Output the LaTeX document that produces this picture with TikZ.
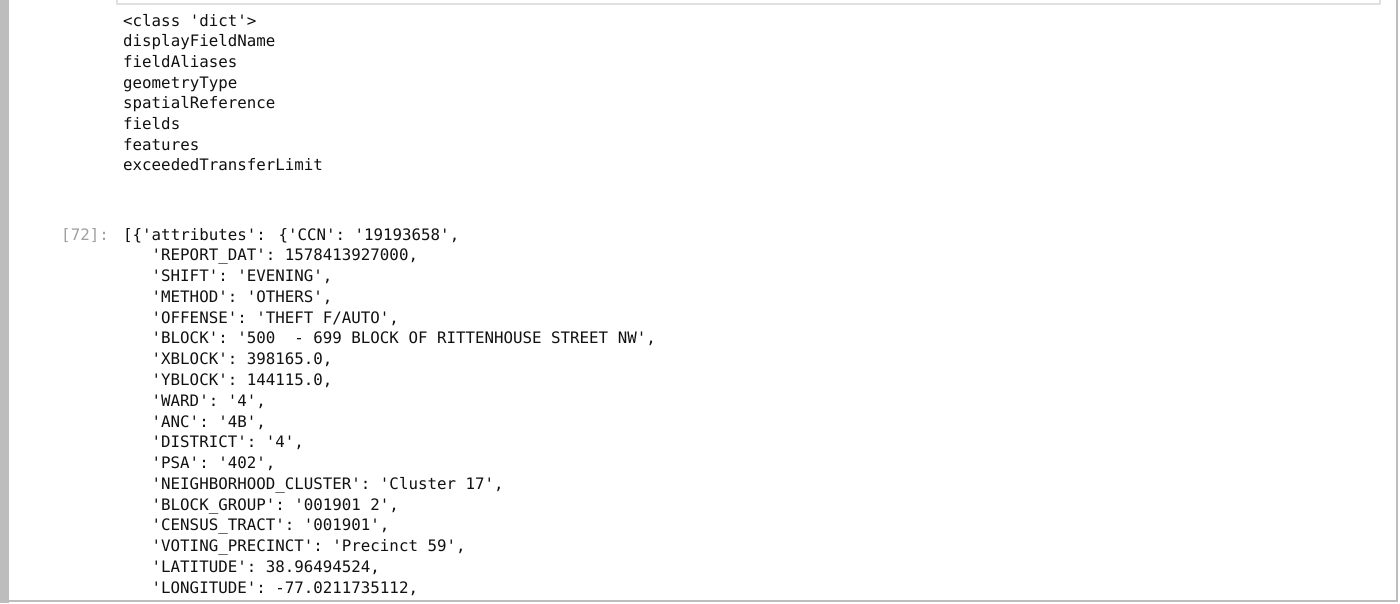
\documentclass[tikz,border=0pt]{standalone}
\usepackage{fontspec}
\newfontfamily\mono{DejaVu Sans Mono}
\definecolor{barg}{HTML}{BDBDBD}
\definecolor{cellb}{HTML}{E0E0E0}
\definecolor{promptg}{HTML}{A0A0A0}
\definecolor{txt}{HTML}{111111}
\begin{document}
\begin{tikzpicture}[x=1pt,y=-1pt,
  line/.style={anchor=base west,inner sep=0pt,font=\mono\fontsize{15.8}{18}\selectfont,text=txt},
  prm/.style={anchor=base east,inner sep=0pt,font=\mono\fontsize{15.8}{18}\selectfont,text=promptg}]
\useasboundingbox (0,0) rectangle (1400,603);
\fill[white] (0,0) rectangle (1400,603);
\fill[barg] (0,0) rectangle (9,603);
\draw[barg,line width=1.5] (1397,0) -- (1397,601) -- (9,601);
\draw[cellb,line width=1.2] (117,-2) -- (117,4) -- (1380,4) -- (1380,-2);
\node[line] (a0) at (123,26.0) {<class 'dict'>};
\node[line] (a1) at (123,46.7) {displayFieldName};
\node[line] (a2) at (123,67.4) {fieldAliases};
\node[line] (a3) at (123,88.1) {geometryType};
\node[line] (a4) at (123,108.8) {spatialReference};
\node[line] (a5) at (123,129.5) {fields};
\node[line] (a6) at (123,150.2) {features};
\node[line] (a7) at (123,170.9) {exceededTransferLimit};
\node[prm] (p) at (109,240) {[72]:};
\node[line] (b0) at (123,240.0) {[\{'attributes': \{'CCN': '19193658',};
\foreach \i/\t in {1/{'REPORT\_DAT': 1578413927000,},
  2/{'SHIFT': 'EVENING',},
  3/{'METHOD': 'OTHERS',},
  4/{'OFFENSE': 'THEFT F/AUTO',},
  5/{'BLOCK': '500\hphantom{0}\hphantom{0}- 699 BLOCK OF RITTENHOUSE STREET NW',},
  6/{'XBLOCK': 398165.0,},
  7/{'YBLOCK': 144115.0,},
  8/{'WARD': '4',},
  9/{'ANC': '4B',},
  10/{'DISTRICT': '4',},
  11/{'PSA': '402',},
  12/{'NEIGHBORHOOD\_CLUSTER': 'Cluster 17',},
  13/{'BLOCK\_GROUP': '001901 2',},
  14/{'CENSUS\_TRACT': '001901',},
  15/{'VOTING\_PRECINCT': 'Precinct 59',},
  16/{'LATITUDE': 38.96494524,},
  17/{'LONGITUDE': -77.0211735112,}}
  \node[line] (b\i) at (151.5,240+20.78*\i) {\t};
\end{tikzpicture}
\end{document}
